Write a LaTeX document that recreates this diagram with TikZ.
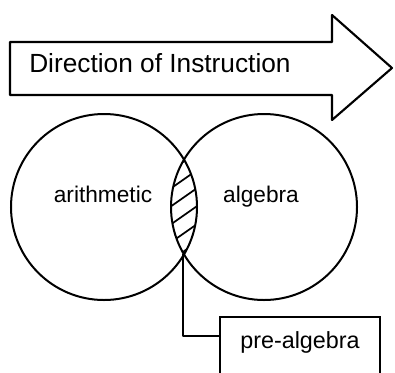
\documentclass[tikz,border=0pt]{standalone}
\usepackage{fontspec}
\setmainfont{Liberation Sans}
\tikzset{
  outl/.style={draw=black,line width=1.6pt,line join=round},
  ring/.style={draw=black,line width=1.5pt},
  hatch/.style={black,line width=1.3pt},
  head/.style={font=\fontsize{19.7pt}{22pt}\selectfont},
  lab/.style={font=\fontsize{17pt}{20pt}\selectfont},
  tagbox/.style={draw=black,line width=1.5pt,inner xsep=0pt,inner ysep=0pt,minimum width=120pt,
    text height=23pt,text depth=40pt,font=\fontsize{17.5pt}{20pt}\selectfont},
}
\begin{document}
\begin{tikzpicture}[x=0.75pt,y=-0.75pt]
  \useasboundingbox (0,0) rectangle (395,372);
  \clip (0,0) rectangle (395,372);
  % arrow
  \draw[outl] (10,42) -- (332,42) -- (332,15) -- (392,68) -- (332,120) -- (332,95) -- (10,95) -- cycle;
  \node[head,anchor=base west,inner sep=0pt] (dir) at (29,72) {Direction of Instruction};
  % overlap
  \begin{scope}
    \clip (104,207) circle (93);
    \clip (264,207) circle (93);
    \foreach \k in {0,...,7}
      \draw[hatch] (160,160+18*\k) -- (210,125+18*\k);
  \end{scope}
  \node[ring,circle,inner sep=0pt,minimum size=139.5pt] (arith) at (104,207) {};
  \node[ring,circle,inner sep=0pt,minimum size=139.5pt] (alg) at (264,207) {};
  \node[lab,anchor=base] (arithlab) at (103,202) {arithmetic};
  \node[lab,anchor=base] (alglab) at (261,202) {algebra};
  \coordinate (lensbot) at (183,254);
  % label box
  \node[tagbox,anchor=base] (pre) at (300,348) {pre-algebra};
  \path (pre.north west) ++(0,20) coordinate (hook);
  \draw[outl] (lensbot) |- (hook);
\end{tikzpicture}
\end{document}
